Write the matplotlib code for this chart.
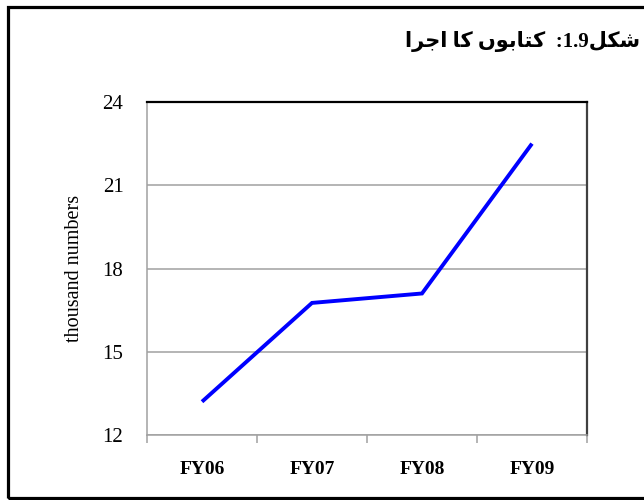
import matplotlib
matplotlib.use('Agg')
import matplotlib.pyplot as plt
from matplotlib.patches import Rectangle

categories = ['FY06', 'FY07', 'FY08', 'FY09']
values = [13.2, 16.76, 17.1, 22.5]
y_ticks = [12, 15, 18, 21, 24]
y_label = 'thousand numbers'
title_word = 'شکل'
title_num = '1.9'
title_text = 'کتابوں کا اجرا'

# Minimal Arabic-script shaping (presentation forms) for matplotlib's LTR layout
FORMS = {  # isolated, final, initial, medial
    '\u0634': ('\uFEB5', '\uFEB6', '\uFEB7', '\uFEB8'),
    '\u06A9': ('\uFB8E', '\uFB8F', '\uFB90', '\uFB91'),
    '\u0644': ('\uFEDD', '\uFEDE', '\uFEDF', '\uFEE0'),
    '\u062A': ('\uFE95', '\uFE96', '\uFE97', '\uFE98'),
    '\u0627': ('\uFE8D', '\uFE8E', None, None),
    '\u0628': ('\uFE8F', '\uFE90', '\uFE91', '\uFE92'),
    '\u0648': ('\uFEED', '\uFEEE', None, None),
    '\u06BA': ('\uFB9E', '\uFB9F', None, None),
    '\u062C': ('\uFE9D', '\uFE9E', '\uFE9F', '\uFEA0'),
    '\u0631': ('\uFEAD', '\uFEAE', None, None),
}


def shape_word(w):
    out = []
    for i, c in enumerate(w):
        f = FORMS.get(c)
        if f is None:
            out.append(c)
            continue
        prev = w[i - 1] if i > 0 else None
        nxt = w[i + 1] if i + 1 < len(w) else None
        jp = prev in FORMS and FORMS[prev][2] is not None
        jn = nxt in FORMS and f[2] is not None
        if jp and jn:
            g = f[3]
        elif jp:
            g = f[1]
        elif jn:
            g = f[2]
        else:
            g = f[0]
        out.append(g)
    return ''.join(out)


def visual(s):
    return ' '.join(shape_word(w) for w in s.split(' '))[::-1]


fig = plt.figure(figsize=(6.44, 5.0), dpi=100)

# outer frame (right edge cropped in the reference)
fig.patches.append(Rectangle((7.5 / 644, 2.0 / 500), 1.2, 1 - 8.5 / 500,
                             transform=fig.transFigure, fill=False,
                             edgecolor='black', linewidth=2.3, zorder=10))

ax = fig.add_axes([147 / 644, 65 / 500, 440 / 644, 333 / 500])
x = list(range(len(categories)))
ax.plot(x, values, color='#0000ff', linewidth=2.8, solid_capstyle='butt',
        solid_joinstyle='miter', zorder=3)

ax.set_xlim(-0.5, len(categories) - 0.5)
ax.set_ylim(y_ticks[0], y_ticks[-1])
ax.set_yticks(y_ticks)
ax.set_yticklabels([str(v) for v in y_ticks])
ax.yaxis.grid(True, color='#a0a0a0', linewidth=1.1)
ax.set_axisbelow(True)

ax.set_xticks(x)
ax.set_xticklabels(categories)
ax.set_xticks([i - 0.5 for i in range(len(categories) + 1)], minor=True)
ax.tick_params(axis='x', which='major', length=0, pad=19)
ax.tick_params(axis='x', which='minor', length=6, width=1.1, color='#a0a0a0',
               direction='out')
ax.tick_params(axis='y', length=0, pad=17)

for lab in ax.get_xticklabels():
    lab.set_fontfamily(['Liberation Serif'])
    lab.set_fontweight('bold')
    lab.set_fontsize(14)
for lab in ax.get_yticklabels():
    lab.set_fontfamily(['Liberation Serif'])
    lab.set_fontsize(15)

ax.set_ylabel(y_label, fontfamily=['Liberation Serif'], fontsize=14.5, labelpad=13)

ax.spines['left'].set_color('#a0a0a0')
ax.spines['left'].set_linewidth(1.1)
ax.spines['bottom'].set_color('#a0a0a0')
ax.spines['bottom'].set_linewidth(1.1)
ax.spines['top'].set_color('black')
ax.spines['top'].set_linewidth(1.6)
ax.spines['right'].set_color('#404040')
ax.spines['right'].set_linewidth(1.6)

title_visual = visual(title_text) + '  :' + title_num + visual(title_word)
fig.text(640 / 644, 1 - 42 / 500, title_visual, ha='right', va='center',
         fontsize=15, fontweight='bold',
         family=['Liberation Serif', 'DejaVu Sans'])

fig.savefig('out.png', dpi=100)
